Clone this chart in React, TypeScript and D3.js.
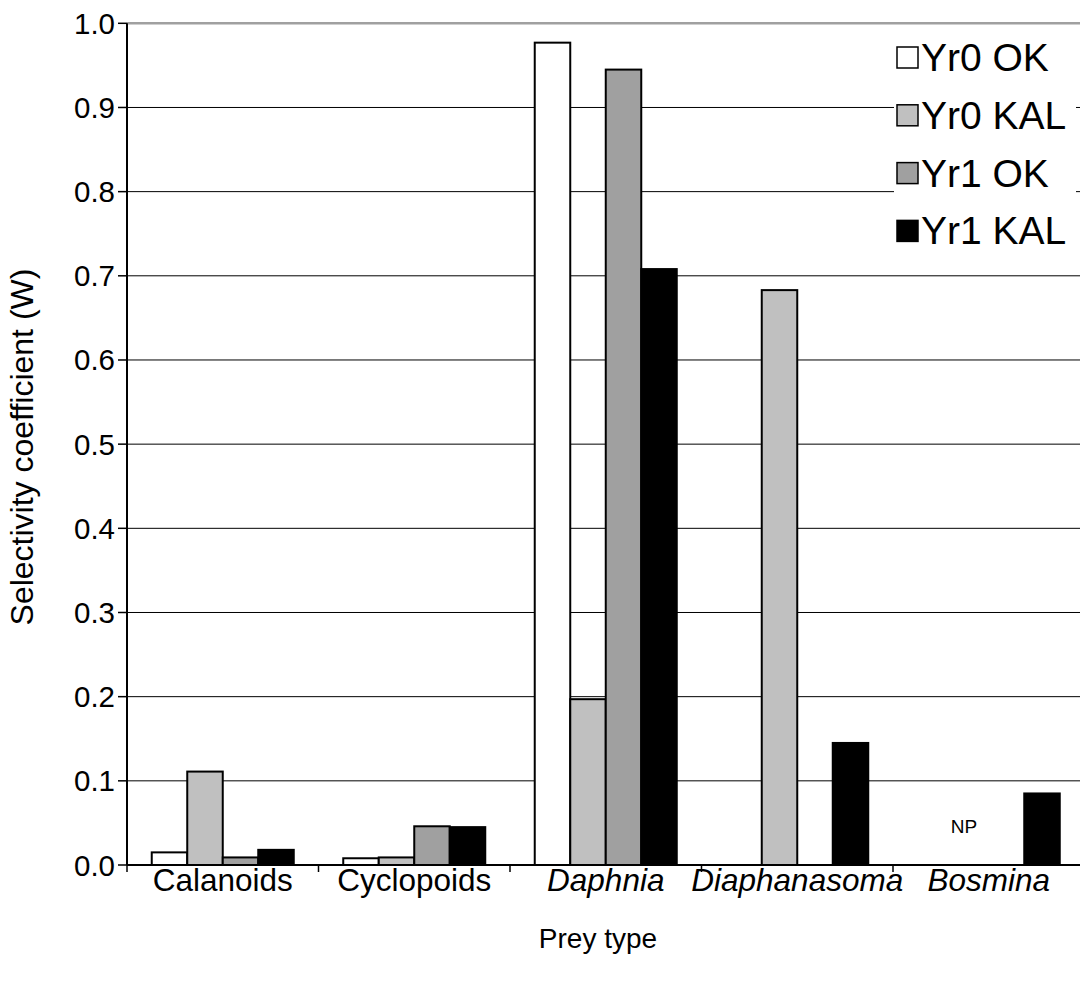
import * as d3 from "d3";

const categories = ["Calanoids", "Cyclopoids", "Daphnia", "Diaphanasoma", "Bosmina"];
const italicCats = ["Daphnia", "Diaphanasoma", "Bosmina"];
const seriesNames = ["Yr0 OK", "Yr0 KAL", "Yr1 OK", "Yr1 KAL"];
const seriesColors = ["#ffffff", "#c0c0c0", "#a0a0a0", "#000000"];

// null = not present (NP)
const yr0Ok = [0.015, 0.008, 0.977, null, null];
const yr0Kal = [0.111, 0.009, 0.197, 0.683, null];
const yr1Ok = [0.009, 0.046, 0.945, null, null];
const yr1Kal = [0.018, 0.045, 0.708, 0.145, 0.085];
const seriesValues = [yr0Ok, yr0Kal, yr1Ok, yr1Kal];

const yTicks = [0, 0.1, 0.2, 0.3, 0.4, 0.5, 0.6, 0.7, 0.8, 0.9, 1.0];

const W = 1080;
const H = 983;
const left = 127;
const step = 191.5;
const top = 23.3;
const bottom = 865;
const font = "Arial, 'Liberation Sans', sans-serif";

export default function App() {
  const x0 = d3
    .scaleBand<string>()
    .domain(categories)
    .range([left, left + step * categories.length])
    .padding(0);
  const x1 = d3
    .scaleBand<string>()
    .domain(seriesNames)
    .range([0, x0.bandwidth()])
    .paddingInner(0)
    .paddingOuter(0.697);
  const y = d3.scaleLinear().domain([0, 1]).range([bottom, top]);

  const npX = (x0("Bosmina") ?? 0) + (x1("Yr0 KAL") ?? 0) + x1.bandwidth() * 0.3;

  return (
    <svg
      width={W}
      height={H}
      style={{ position: "absolute", left: 0, top: 0, background: "#fff" }}
      fontFamily={font}
    >
      {/* gridlines */}
      {yTicks.slice(1).map((t) => (
        <line
          key={"g" + t}
          x1={left}
          x2={W}
          y1={y(t)}
          y2={y(t)}
          stroke={t === 1 ? "#a0a0a0" : "#000"}
          strokeWidth={t === 1 ? 2.5 : 1}
        />
      ))}

      {/* bars */}
      {categories.map((c, ci) => (
        <g key={c} transform={`translate(${x0(c)},0)`}>
          {seriesNames.map((s, si) => {
            const v = seriesValues[si][ci];
            if (v == null) return null;
            return (
              <rect
                key={s}
                x={x1(s)}
                y={y(v)}
                width={x1.bandwidth()}
                height={bottom - y(v)}
                fill={seriesColors[si]}
                stroke="#000"
                strokeWidth={2}
              />
            );
          })}
        </g>
      ))}

      <text x={npX} y={826} fontSize={19} textAnchor="middle" dominantBaseline="central">
        NP
      </text>

      {/* y axis */}
      <line x1={left} x2={left} y1={top} y2={bottom} stroke="#000" strokeWidth={2} />
      {yTicks.map((t) => (
        <g key={"t" + t}>
          <line x1={left - 9} x2={left} y1={y(t)} y2={y(t)} stroke="#000" strokeWidth={1.5} />
          <text
            x={115}
            y={y(t)}
            fontSize={29.5}
            textAnchor="end"
            dominantBaseline="central"
          >
            {t.toFixed(1)}
          </text>
        </g>
      ))}

      {/* x axis */}
      <line x1={left} x2={W} y1={bottom} y2={bottom} stroke="#000" strokeWidth={2} />
      {d3.range(categories.length + 1).map((i) => (
        <line
          key={"xt" + i}
          x1={left + i * x0.step()}
          x2={left + i * x0.step()}
          y1={bottom}
          y2={bottom + 7}
          stroke="#000"
          strokeWidth={1.5}
        />
      ))}
      {categories.map((c) => (
        <text
          key={"l" + c}
          x={(x0(c) ?? 0) + x0.bandwidth() / 2}
          y={891}
          fontSize={31.5}
          textAnchor="middle"
          fontStyle={italicCats.includes(c) ? "italic" : "normal"}
        >
          {c}
        </text>
      ))}

      <text x={598} y={948} fontSize={28} textAnchor="middle">
        Prey type
      </text>
      <text
        transform="translate(33,447) rotate(-90)"
        fontSize={32}
        textAnchor="middle"
      >
        Selectivity coefficient (W)
      </text>

      {/* legend */}
      <rect x={894} y={25} width={182} height={249} fill="#fff" />
      {seriesNames.map((s, i) => {
        const cy = 57.5 + i * 57.8;
        return (
          <g key={"lg" + s}>
            <rect
              x={897}
              y={cy - 10.5}
              width={21}
              height={21}
              fill={seriesColors[i]}
              stroke="#000"
              strokeWidth={1.5}
            />
            <text x={921} y={cy} fontSize={39} dominantBaseline="central">
              {s}
            </text>
          </g>
        );
      })}
    </svg>
  );
}
